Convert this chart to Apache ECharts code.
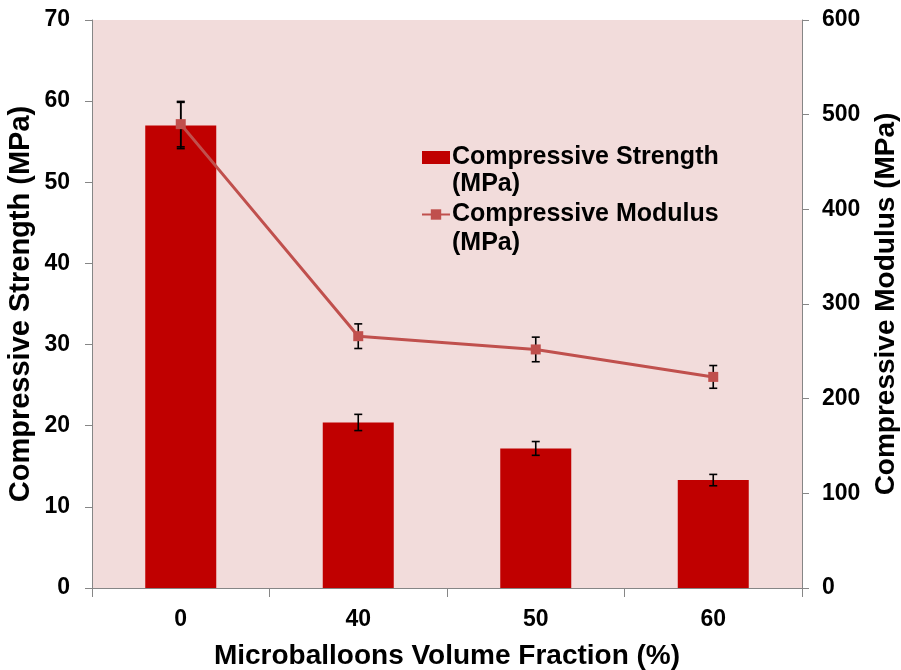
<!DOCTYPE html>
<html>
<head>
<meta charset="utf-8">
<script src="https://cdn.jsdelivr.net/npm/echarts@6/dist/echarts.min.js"></script>
<style>html,body{margin:0;padding:0;background:#fff;}#c{width:901px;height:670px;}</style>
</head>
<body>
<div id="c"></div>
<script>
const categories = ['0', '40', '50', '60'];
const strength = [57, 20.4, 17.2, 13.3];
const strengthErr = [2.85, 1.0, 0.85, 0.7];
const modulus = [490, 266, 252, 223];
const modulusErr = [24, 13, 13, 12];
const leftTicks = {min: 0, max: 70, interval: 10};
const rightTicks = {min: 0, max: 600, interval: 100};

const FONT = '"Liberation Sans", Arial, sans-serif';
const chart = echarts.init(document.getElementById('c'));

function errRender(params, api) {
  const x = api.value(0), v = api.value(1), e = api.value(2);
  const hi = api.coord([x, v + e]);
  const lo = api.coord([x, v - e]);
  const w = 4;
  const st = {stroke: '#000', lineWidth: 1.6};
  return {
    type: 'group',
    children: [
      {type: 'line', shape: {x1: hi[0], y1: hi[1], x2: lo[0], y2: lo[1]}, style: st},
      {type: 'line', shape: {x1: hi[0] - w, y1: hi[1], x2: hi[0] + w, y2: hi[1]}, style: st},
      {type: 'line', shape: {x1: lo[0] - w, y1: lo[1], x2: lo[0] + w, y2: lo[1]}, style: st}
    ]
  };
}

const axisLineStyle = {show: true, lineStyle: {color: '#868686', width: 1}};
const labelStyle = {color: '#000', fontFamily: FONT, fontWeight: 'bold', fontSize: 23};
const nameStyle = {color: '#000', fontFamily: FONT, fontWeight: 'bold', fontSize: 28};

chart.setOption({
  animation: false,
  backgroundColor: '#fff',
  grid: {left: 92, right: 99, top: 20, bottom: 82, containLabel: false, outerBoundsMode: 'none',
         show: true, backgroundColor: '#F2DCDB', borderWidth: 0},
  legend: {
    orient: 'vertical',
    left: 421,
    top: 144,
    padding: 0,
    itemWidth: 28,
    itemHeight: 13,
    itemGap: 30,
    data: [
      {name: 'Compressive Strength (MPa)', icon: 'rect'},
      {name: 'Compressive Modulus (MPa)'}
    ],
    formatter: function (n) { return n.replace(' (MPa)', ''); },
    textStyle: {color: '#000', fontFamily: FONT, fontWeight: 'bold', fontSize: 25, lineHeight: 27, padding: [0, 0, 0, -3]},
    selectedMode: false
  },
  graphic: [
    {type: 'text', left: 452, top: 172, style: {text: '(MPa)', fill: '#000', font: 'bold 25px ' + FONT}},
    {type: 'text', left: 452, top: 231, style: {text: '(MPa)', fill: '#000', font: 'bold 25px ' + FONT}}
  ],
  xAxis: {
    type: 'category',
    data: categories,
    boundaryGap: true,
    axisLine: axisLineStyle,
    axisTick: {show: true, length: 9, alignWithLabel: false, lineStyle: {color: '#868686'}},
    axisLabel: Object.assign({margin: 20}, labelStyle),
    name: 'Microballoons Volume Fraction (%)',
    nameLocation: 'middle',
    nameGap: 54,
    nameMoveOverlap: false,
    nameTextStyle: nameStyle
  },
  yAxis: [
    {
      type: 'value',
      min: leftTicks.min, max: leftTicks.max, interval: leftTicks.interval,
      axisLine: axisLineStyle,
      axisTick: {show: true, length: 7, lineStyle: {color: '#868686'}},
      splitLine: {show: false},
      axisLabel: Object.assign({margin: 22}, labelStyle),
      name: 'Compressive Strength (MPa)',
      nameLocation: 'middle',
      nameGap: 57,
      nameMoveOverlap: false,
      nameTextStyle: Object.assign({}, nameStyle, {fontSize: 29})
    },
    {
      type: 'value',
      position: 'right',
      min: rightTicks.min, max: rightTicks.max, interval: rightTicks.interval,
      axisLine: axisLineStyle,
      axisTick: {show: true, length: 7, lineStyle: {color: '#868686'}},
      splitLine: {show: false},
      axisLabel: Object.assign({margin: 20}, labelStyle),
      name: 'Compressive Modulus (MPa)',
      nameLocation: 'middle',
      nameGap: 70,
      nameRotate: 90,
      nameMoveOverlap: false,
      nameTextStyle: nameStyle
    }
  ],
  series: [
    {
      name: 'Compressive Strength (MPa)',
      type: 'bar',
      yAxisIndex: 0,
      data: strength,
      barWidth: '40%',
      itemStyle: {color: '#C00000'},
      z: 2
    },
    {
      type: 'custom',
      yAxisIndex: 0,
      renderItem: errRender,
      data: strength.map((v, i) => [i, v, strengthErr[i]]),
      z: 3,
      silent: true
    },
    {
      type: 'custom',
      yAxisIndex: 1,
      renderItem: errRender,
      data: modulus.map((v, i) => [i, v, modulusErr[i]]),
      z: 3,
      silent: true
    },
    {
      name: 'Compressive Modulus (MPa)',
      type: 'line',
      yAxisIndex: 1,
      data: modulus,
      symbol: 'rect',
      symbolSize: 10,
      lineStyle: {color: '#C0504D', width: 3},
      itemStyle: {color: '#C0504D'},
      z: 4
    }
  ]
});
</script>
</body>
</html>
